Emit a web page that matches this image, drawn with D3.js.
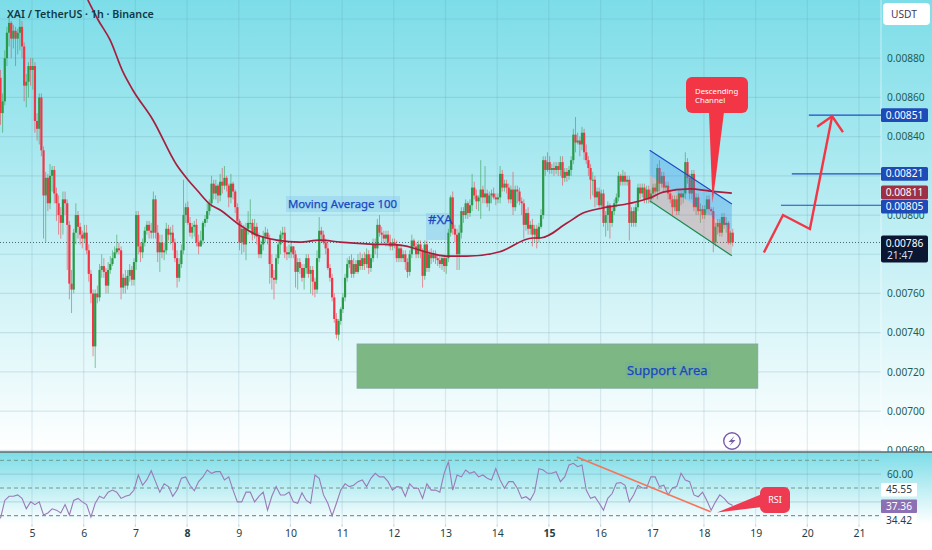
<!DOCTYPE html>
<html>
<head>
<meta charset="utf-8">
<script src="https://cdnjs.cloudflare.com/ajax/libs/d3/7.8.5/d3.min.js"></script>
<style>
html,body{margin:0;padding:0;background:#fff;overflow:hidden}
svg{display:block}
text{font-family:"Noto Sans",sans-serif}
</style>
</head>
<body>
<svg id="c" width="932" height="550"></svg>
<script>
// Prices are in units of 0.00001 USDT. One candle per hour, opening at the previous close.
const firstOpen = 870;
const closes = [
852,858,880,893,898,890,894,890,893,896, 886,866,868,876,874,876,848,844,860,833,
810,819,806,820,823,811,806,800,796,808, 806,795,765,762,791,800,794,790,788,791,
782,770,760,733,760,758,772,774,771,764, 772,775,778,781,783,782,763,768,764,769,
772,767,776,800,784,781,786,792,795,792, 791,808,791,781,786,781,782,793,790,791,
786,778,768,775,782,800,804,796,791,794, 795,786,784,787,796,798,802,806,816,811,
815,810,817,815,819,815,809,816,812,804, 797,786,793,785,793,796,796,790,794,789,
780,785,789,791,788,775,768,767,778,785, 790,791,781,780,781,784,780,771,776,773,
768,773,778,770,772,766,762,778,792,790, 786,783,773,768,758,747,739,746,752,758,
768,775,777,770,775,771,777,774,778,775, 780,773,778,785,783,795,791,790,788,790,
786,784,786,785,778,783,778,780,776,771, 780,787,784,780,785,782,769,785,773,780,
778,780,778,777,775,778,774,778,791,809, 793,790,780,791,802,800,806,801,805,814,
810,807,809,813,809,811,806,810,811,809, 808,809,821,814,816,814,808,813,804,813,
812,807,806,795,801,793,795,790,793,788, 794,800,828,823,827,823,824,823,825,823,
827,819,822,820,823,828,841,837,838,836, 842,832,828,824,818,818,809,812,805,811,
796,800,805,796,802,806,809,820,817,820, 817,818,796,802,796,804,814,811,814,808,
813,808,811,814,812,824,816,820,814,815, 811,808,804,808,802,811,809,811,827,819,
811,821,804,809,802,803,800,803,808,803, 802,786,794,796,791,799,795,796,786,791,786];
const highs = [
874,862,884,896,901,899,897,896,895,900, 899,888,872,878,880,880,878,852,862,862,
835,822,821,826,825,825,814,810,804,812, 812,808,797,772,793,806,802,796,792,795,
795,785,772,762,762,764,775,780,778,773, 776,779,782,784,790,786,784,770,772,772,
775,774,778,802,802,786,788,794,797,797, 796,812,810,795,790,790,786,796,795,794,
795,788,782,778,785,818,806,807,799,796, 797,798,790,792,797,800,806,808,820,818,
818,816,821,824,825,820,816,821,817,813, 806,798,796,795,796,802,808,798,798,796,
791,787,792,794,793,790,780,772,780,787, 792,794,794,784,785,786,784,782,778,778,
775,775,780,780,774,774,768,782,799,794, 792,788,786,775,770,760,750,747,753,760,
770,778,779,780,778,777,780,781,780,781, 783,782,780,788,788,798,800,794,792,792,
792,790,788,788,787,785,785,782,782,778, 782,790,788,786,787,787,783,787,787,782,
783,782,782,780,779,780,780,779,793,810, 812,795,793,795,804,804,808,807,808,821,
817,813,810,828,815,825,813,812,813,814, 811,811,825,823,818,818,816,815,822,815,
815,814,809,808,803,804,797,798,795,795, 796,803,830,830,832,830,826,827,827,827,
830,830,824,824,825,830,844,850,842,840, 845,844,836,830,826,822,820,814,814,813,
813,802,807,806,804,808,811,822,821,823, 822,820,820,804,804,806,816,816,816,816,
815,815,813,816,816,826,828,822,822,817, 817,813,810,810,810,813,813,813,832,829,
821,823,823,811,811,806,805,805,810,810, 804,804,796,798,798,801,801,799,797,792,793];
const lows = [
846,842,856,876,886,880,885,876,882,884, 880,858,855,860,866,864,842,838,836,830,
788,786,802,803,812,806,797,790,788,790, 800,772,757,750,760,785,788,785,783,786,
780,766,755,728,722,755,756,768,768,760, 760,770,774,778,780,780,757,760,760,762,
766,764,764,772,780,776,778,784,790,788, 788,788,788,776,771,778,777,780,787,785,
782,776,763,766,773,780,796,795,789,788, 789,784,780,784,785,794,796,800,804,808,
808,806,807,811,813,812,804,806,808,801, 795,782,780,781,777,790,793,787,788,785,
778,778,782,786,785,765,762,757,765,775, 780,788,778,777,778,778,778,763,762,770,
766,762,770,768,760,759,758,760,776,786, 785,780,772,766,756,745,737,736,744,750,
756,766,773,768,768,770,770,772,772,772, 773,770,771,776,780,778,789,786,786,784,
784,782,782,783,776,776,776,776,772,768, 769,778,782,778,778,778,763,767,771,771,
775,776,775,774,773,772,771,770,776,789, 790,786,772,772,788,796,798,798,799,802,
808,803,802,798,806,806,804,802,806,808, 805,806,806,812,812,811,806,806,800,802,
806,805,800,788,792,790,790,784,786,783, 786,793,798,820,822,821,821,820,821,820,
820,815,817,817,818,820,826,832,836,830, 833,828,826,820,808,810,804,805,803,803,
794,789,792,788,794,800,804,807,815,815, 815,815,787,794,794,794,802,808,809,806,
806,806,806,808,810,808,812,814,812,812, 808,806,800,802,800,800,805,806,808,816,
808,808,802,800,800,796,798,798,800,800, 800,781,784,790,789,789,793,791,785,785,784];

// 100-hour moving average, sampled at day positions.
const maDays = [6.08,6.28,6.51,6.76,6.95,7.34,7.8,8.02,8.19,8.44,8.64,9.02,9.35,9.74,10.18,10.57,10.96,11.54,12.12,12.7,13.03,13.41,14.05,14.69,14.83,15.35,15.66,16.04,16.57,16.95,17.21,17.73,18.12,18.54];
const maValues = [909.7,899.5,889.3,873,863.8,848.5,825.5,817.9,812.8,805.6,802.6,794.9,789.8,787.2,786.2,787.2,786.2,785.2,784.7,780.6,779,779,781.3,788.3,788.3,795.9,801,803.6,806,808.7,811.7,813.3,812.2,811.2];

// RSI, one reading every two hours.
const rsiValues = [28,41,44,44,45,42.5,35,40,38,40,30.5,32,35,34,32,38,30.5,41,42.5,40,38,29,39,44,42.5,47,48.5,47,42.5,44,45,48.5,59.4,52,56,62.5,54.6,47,53,51,44,48.5,57,58,52,48,54.6,58,63,60.6,61.8,61.8,55.8,58,48.5,40,40,47,47,40,44,47,34,44,51,45,45,47,40,39,46.6,41,39,59.4,57,45,39,30,39,48.5,53,51,52,54.6,55.8,51,57,60.6,58,58,54.6,48.5,51,50.5,44,53,49.8,49.8,42.5,53,48.5,48.5,47,60.6,69,48.5,59.4,58,63,
60.6,61.8,58,59.4,57,55.8,64,55.8,49.8,54.6,54.6,49.8,42.5,43.7,41.3,47,64,63,60.6,60.6,61.8,54.6,58,66.6,67.8,65.4,66.6,48.5,42.5,43.7,39,34,42.5,46,53.4,53.9,52,40,45,52,50,50,58,58,51,52,45,50,51,60.6,55.8,54.6,45,43.7,47,41,34,40,45,42.5,39,37.36];

const dayTicks = [5,6,7,8,9,10,11,12,13,14,15,16,17,18,19,20,21];
const boldDays = [8,15];
const priceGrid = [900,880,860,840,820,800,780,760,740,720,700,680];
const priceLabels = [880,860,840,800,760,740,720,700,680];
const rsiDashed = [70,50,30];
const rsiGrid = [60,40];
const firstDay = 4.39;
const lastPrice = 786;

// Annotations in chart units (day, price).
const levels = [{price:851,from:20.03},{price:821,from:19.7},{price:805,from:19.49}];
const tags = [
 {price:851,text:"0.00851",fill:"#1f4bb8",shift:0},
 {price:821,text:"0.00821",fill:"#1f4bb8",shift:0},
 {price:811,text:"0.00811",fill:"#9e3045",shift:-1.2},
 {price:805,text:"0.00805",fill:"#1f4bb8",shift:1.4}];
const channel = {d0:16.95,d1:18.54,top0:833,top1:805.6,mid0:820.4,mid1:792.3,bot0:807.3,bot1:779.2};
const support = {d0:11.29,d1:19.04,top:734.2,bot:711.7};
const arrowDays = [19.16,19.53,20.05,20.48];
const arrowPrices = [780.9,800,792.9,850.4];
const arrowHeadDays = [20.19,20.48,20.69];
const arrowHeadPrices = [845,850.4,842.3];
const rsiTrend = {d0:15.54,v0:72.4,d1:18.13,v1:32.8};

const svg = d3.select("#c");
const defs = svg.append("defs");
function grad(id){
  const g = defs.append("linearGradient").attr("id",id).attr("x1",0).attr("x2",0).attr("y1",0).attr("y2",1);
  g.append("stop").attr("offset",0).attr("stop-color","#7cdde8");
  g.append("stop").attr("offset",1).attr("stop-color","#ffffff");
}
grad("g1");grad("g2");

const x = d3.scaleLinear().domain([5,21]).range([32,859]);
const y = d3.scaleLinear().domain([680,900]).range([450.3,19]);
const yR = d3.scaleLinear().domain([30,70]).range([515.7,460.3]);
const hourDay = i => firstDay + i/24;

// Backgrounds
svg.append("rect").attr("width",932).attr("height",550).attr("fill","#fff");
svg.append("rect").attr("width",932).attr("height",452).attr("fill","url(#g1)");

// Grid
svg.append("g").selectAll("line").data(dayTicks).join("line")
  .attr("x1",d=>x(d)).attr("x2",d=>x(d)).attr("y1",0).attr("y2",527)
  .attr("stroke","#5d8ea8").attr("stroke-opacity",.17).attr("stroke-width",1.2);
svg.append("g").selectAll("line").data(priceGrid).join("line")
  .attr("x1",0).attr("x2",881).attr("y1",d=>y(d)).attr("y2",d=>y(d))
  .attr("stroke","#5d8ea8").attr("stroke-opacity",.2).attr("stroke-width",1.2);

// Price axis
const axR = d3.axisRight(y).tickValues(priceLabels).tickSize(0).tickPadding(0)
  .tickFormat(d=>(d/1e5).toFixed(5));
const gR = svg.append("g").attr("transform","translate(887,0)").call(axR);
gR.select(".domain").remove();
gR.selectAll("text").attr("fill","#235c52").attr("font-size",10.2).attr("font-family","'Noto Sans',sans-serif");

// Axis separator
svg.append("line").attr("x1",881).attr("x2",881).attr("y1",0).attr("y2",452).attr("stroke","#fff").attr("stroke-opacity",.55);

// Support area
svg.append("rect").attr("x",x(support.d0)).attr("width",x(support.d1)-x(support.d0))
  .attr("y",y(support.top)).attr("height",y(support.bot)-y(support.top))
  .attr("fill","#7db784").attr("stroke","#7fa9a0").attr("stroke-width",1);

// Label backgrounds
svg.append("rect").attr("x",286).attr("y",196).attr("width",114).attr("height",16).attr("fill","#7fc0e8").attr("opacity",.35);
svg.append("rect").attr("x",426).attr("y",213).attr("width",23).attr("height",27).attr("fill","#7fc0e8").attr("opacity",.4);

// Last price line
svg.append("line").attr("x1",0).attr("x2",881).attr("y1",y(lastPrice)).attr("y2",y(lastPrice))
  .attr("stroke","#4d6a78").attr("stroke-width",1).attr("stroke-dasharray","1 2");

// Candles
const candles = closes.map((c,i)=>({i,o:i?closes[i-1]:firstOpen,c,h:highs[i],l:lows[i]}));
const col = d => d.c>=d.o ? "#2b9a48" : "#f23645";
svg.append("g").selectAll("line").data(candles).join("line")
  .attr("x1",d=>x(hourDay(d.i))).attr("x2",d=>x(hourDay(d.i)))
  .attr("y1",d=>y(d.h)).attr("y2",d=>y(d.l))
  .attr("stroke",col).attr("stroke-opacity",.55).attr("stroke-width",1);
svg.append("g").selectAll("rect").data(candles).join("rect")
  .attr("x",d=>x(hourDay(d.i))-1.1).attr("width",2.2)
  .attr("y",d=>y(Math.max(d.o,d.c)))
  .attr("height",d=>Math.max(1,Math.abs(y(d.o)-y(d.c))))
  .attr("fill",col);

// Channel
const area = (a0,a1,b0,b1)=>[[channel.d0,a0],[channel.d1,a1],[channel.d1,b1],[channel.d0,b0]]
  .map(p=>[x(p[0]),y(p[1])].join(",")).join(" ");
svg.append("polygon").attr("points",area(channel.top0,channel.top1,channel.mid0,channel.mid1)).attr("fill","#2f8fe6").attr("fill-opacity",.33);
svg.append("polygon").attr("points",area(channel.mid0,channel.mid1,channel.bot0,channel.bot1)).attr("fill","#f26060").attr("fill-opacity",.27);
svg.append("line").attr("x1",x(channel.d0)).attr("x2",x(channel.d1)).attr("y1",y(channel.top0)).attr("y2",y(channel.top1)).attr("stroke","#1c4fc0").attr("stroke-width",1.2);
svg.append("line").attr("x1",x(channel.d0)).attr("x2",x(channel.d1)).attr("y1",y(channel.bot0)).attr("y2",y(channel.bot1)).attr("stroke","#1f8a52").attr("stroke-width",1.2);

// Moving average
svg.append("path").attr("d",d3.line().curve(d3.curveMonotoneX).x((d,i)=>x(d)).y((d,i)=>y(maValues[i]))(maDays))
  .attr("fill","none").attr("stroke","#a81e3e").attr("stroke-width",1.7);

// Levels
svg.append("g").selectAll("line").data(levels).join("line")
  .attr("x1",d=>x(d.from)).attr("x2",881).attr("y1",d=>y(d.price)).attr("y2",d=>y(d.price))
  .attr("stroke","#1c4fc0").attr("stroke-width",1.2);

// Arrow
svg.append("path").attr("d",d3.line()(arrowDays.map((d,i)=>[x(d),y(arrowPrices[i])])))
  .attr("fill","none").attr("stroke","#f23645").attr("stroke-width",2.4);
svg.append("path").attr("d",d3.line()(arrowHeadDays.map((d,i)=>[x(d),y(arrowHeadPrices[i])])))
  .attr("fill","none").attr("stroke","#f23645").attr("stroke-width",2.4);

// Callout: channel
svg.append("path").attr("d","M709 112 L724 112 L712.5 203 Z").attr("fill","#f23645");
svg.append("rect").attr("x",686).attr("y",77).attr("width",62).attr("height",36).attr("rx",6).attr("fill","#f23645");
const callT = svg.append("text").attr("fill","#fff").attr("font-size",7.8).attr("font-family","'Noto Sans',sans-serif");
callT.append("tspan").attr("x",695).attr("y",93.5).text("Descending");
callT.append("tspan").attr("x",695).attr("y",103).text("Channel");

// Blue notes
const noteFont = "'DejaVu Sans',sans-serif";
const note = (tx,ty,fs,s)=>svg.append("text").attr("x",tx).attr("y",ty).attr("fill","#1a47c0").attr("stroke","#1a47c0").attr("stroke-width",.25).attr("font-size",fs).attr("font-family",noteFont).text(s);
note(288,208,11.4,"Moving Average 100");
note(428,224,13,"#XA");
svg.append("rect").attr("x",625).attr("y",362).attr("width",86).attr("height",17).attr("fill","#5f9fb0").attr("opacity",.15);
note(627,375,13,"Support Area");

// Title
svg.append("text").attr("x",7).attr("y",18).attr("fill","#0e3a48").attr("font-size",10.7).attr("font-weight",600).text("XAI / TetherUS · 1h · Binance");

// Icon
svg.append("circle").attr("cx",732).attr("cy",441).attr("r",8.3).attr("fill","none").attr("stroke","#7a5ba8").attr("stroke-width",1.4);
svg.append("path").attr("d","M734.5 436 L728.5 442 L732 442 L729.5 446 L735.5 440 L732 440 Z").attr("fill","#7a5ba8");

// RSI pane
svg.append("rect").attr("y",452).attr("width",932).attr("height",72).attr("fill","url(#g2)");
svg.append("g").selectAll("line").data(dayTicks).join("line")
  .attr("x1",d=>x(d)).attr("x2",d=>x(d)).attr("y1",452).attr("y2",527)
  .attr("stroke","#5d8ea8").attr("stroke-opacity",.17).attr("stroke-width",1.2);
svg.append("g").selectAll("line").data(rsiGrid).join("line")
  .attr("x1",0).attr("x2",881).attr("y1",d=>yR(d)).attr("y2",d=>yR(d))
  .attr("stroke","#5d8ea8").attr("stroke-opacity",.25).attr("stroke-width",1.2);
svg.append("g").selectAll("line").data(rsiDashed).join("line")
  .attr("x1",0).attr("x2",881).attr("y1",d=>yR(d)).attr("y2",d=>yR(d))
  .attr("stroke",d=>d===30?"#6a7a90":"#6f9a8a").attr("stroke-width",1).attr("stroke-dasharray","4 3");
svg.append("line").attr("x1",0).attr("x2",932).attr("y1",452).attr("y2",452).attr("stroke","#666").attr("stroke-width",1.4);

svg.append("path").attr("d",d3.line().x((d,i)=>x(hourDay(i*2))).y(d=>yR(d))(rsiValues))
  .attr("fill","none").attr("stroke","#9a7ab8").attr("stroke-width",1.1);

svg.append("line").attr("x1",x(rsiTrend.d0)).attr("x2",x(rsiTrend.d1)).attr("y1",yR(rsiTrend.v0)).attr("y2",yR(rsiTrend.v1))
  .attr("stroke","#f5745a").attr("stroke-width",1.6);

// RSI callout
svg.append("path").attr("d","M717 512.5 L762 494 L762 507 Z").attr("fill","#ee3b52");
svg.append("rect").attr("x",760).attr("y",487).attr("width",30).attr("height",26).attr("rx",6).attr("fill","#ee3b52");
svg.append("text").attr("x",775).attr("y",503).attr("text-anchor","middle").attr("fill","#fff").attr("font-size",9).text("RSI");

// Time axis
const axB = d3.axisBottom(x).tickValues(dayTicks).tickSize(0).tickPadding(0).tickFormat(d=>String(d));
const gB = svg.append("g").attr("transform","translate(0,530)").call(axB);
gB.select(".domain").remove();
gB.selectAll("text").attr("fill","#1f4046").attr("font-size",10.5).attr("font-family","'Noto Sans',sans-serif")
  .attr("font-weight",d=>boldDays.includes(d)?700:400);

// Price tags
const tg = svg.append("g").selectAll("g").data(tags).join("g");
tg.append("rect").attr("x",881).attr("width",47).attr("y",d=>y(d.price)+d.shift-6.9).attr("height",13.8).attr("rx",1.5).attr("fill",d=>d.fill);
tg.append("text").attr("x",904.5).attr("y",d=>y(d.price)+d.shift+3.6).attr("text-anchor","middle").attr("fill","#fff").attr("font-size",10.2).text(d=>d.text);
svg.append("rect").attr("x",881).attr("y",235.5).attr("width",47).attr("height",27).attr("rx",2).attr("fill","#0a1632");
svg.append("text").attr("x",904.5).attr("y",247).attr("text-anchor","middle").attr("fill","#fff").attr("font-size",10.2).text("0.00786");
svg.append("text").attr("x",887).attr("y",259).attr("fill","#d5dde5").attr("font-size",10.2).text("21:47");

// RSI labels
svg.append("text").attr("x",887).attr("y",478).attr("fill","#235c52").attr("font-size",10.2).text("60.00");
[[483,"45.55","#fff","#2e3a4a"],[499.5,"37.36","#8d70b4","#fff"],[513.5,"34.42","#fff","#2e3a4a"]].forEach(r=>{
  svg.append("rect").attr("x",881).attr("y",r[0]).attr("width",36).attr("height",13.5).attr("rx",1).attr("fill",r[2]);
  svg.append("text").attr("x",899).attr("y",r[0]+10.3).attr("text-anchor","middle").attr("fill",r[3]).attr("font-size",10.2).text(r[1]);
});

// Currency button
svg.append("rect").attr("x",883).attr("y",3).attr("width",47).attr("height",22).attr("rx",4).attr("fill","#fff");
svg.append("text").attr("x",891).attr("y",18).attr("fill","#3f3a5a").attr("font-size",10.2).text("USDT");
</script>
</body>
</html>
